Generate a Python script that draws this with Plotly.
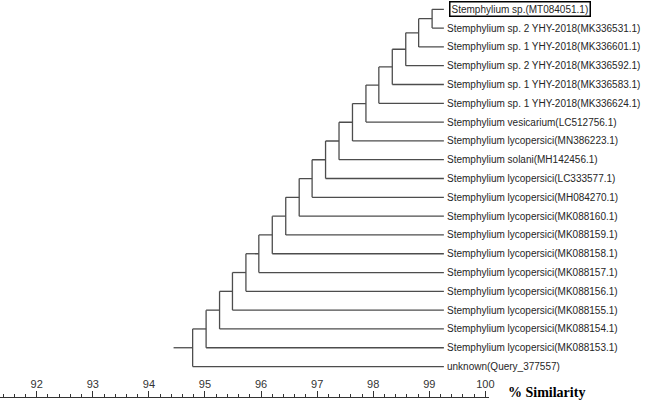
import plotly.graph_objects as go

# leaves, top to bottom
leaf_names = [
    "Stemphylium sp.(MT084051.1)",
    "Stemphylium sp. 2 YHY-2018(MK336531.1)",
    "Stemphylium sp. 1 YHY-2018(MK336601.1)",
    "Stemphylium sp. 2 YHY-2018(MK336592.1)",
    "Stemphylium sp. 1 YHY-2018(MK336583.1)",
    "Stemphylium sp. 1 YHY-2018(MK336624.1)",
    "Stemphylium vesicarium(LC512756.1)",
    "Stemphylium lycopersici(MN386223.1)",
    "Stemphylium solani(MH142456.1)",
    "Stemphylium lycopersici(LC333577.1)",
    "Stemphylium lycopersici(MH084270.1)",
    "Stemphylium lycopersici(MK088160.1)",
    "Stemphylium lycopersici(MK088159.1)",
    "Stemphylium lycopersici(MK088158.1)",
    "Stemphylium lycopersici(MK088157.1)",
    "Stemphylium lycopersici(MK088156.1)",
    "Stemphylium lycopersici(MK088155.1)",
    "Stemphylium lycopersici(MK088154.1)",
    "Stemphylium lycopersici(MK088153.1)",
    "unknown(Query_377557)",
]
highlight = "Stemphylium sp.(MT084051.1)"

# % similarity of each join (node k joins leaves 0..k with leaf k+1)
node_sim = [99.05, 98.81, 98.58, 98.34, 98.10, 97.87, 97.63, 97.39, 97.15, 96.91,
            96.68, 96.44, 96.20, 95.96, 95.73, 95.49, 95.26, 95.02, 94.78]
leaf_sim = 99.26
root_sim = 94.44

line_col = "#4d4d4d"
txt_col = "#262626"

xs, ys = [], []
def seg(x0, y0, x1, y1):
    xs.extend([x0, x1, None])
    ys.extend([y0, y1, None])

node_y = []
prev_y = 0
for k, h in enumerate(node_sim):
    child_a = prev_y          # cluster built so far (or leaf 0)
    child_b = k + 1           # next leaf
    xa = leaf_sim if k == 0 else node_sim[k - 1]
    seg(xa, child_a, h, child_a)
    seg(leaf_sim, child_b, h, child_b)
    seg(h, child_a, h, child_b)
    prev_y = (child_a + child_b) / 2
    node_y.append(prev_y)
seg(node_sim[-1], node_y[-1], root_sim, node_y[-1])

fig = go.Figure()
fig.add_trace(go.Scatter(
    x=xs, y=ys, mode="lines",
    line=dict(color=line_col, width=1.3),
    hoverinfo="skip", showlegend=False,
))

for i, name in enumerate(leaf_names):
    boxed = name == highlight
    fig.add_annotation(
        x=leaf_sim, y=i, xref="x", yref="y",
        text=name, showarrow=False,
        xanchor="left", yanchor="middle",
        xshift=5 if boxed else 2,
        font=dict(family="Liberation Sans, Arial", size=10, color=txt_col),
        bordercolor="black" if boxed else "rgba(0,0,0,0)",
        borderwidth=1.5 if boxed else 0,
        borderpad=1,
    )

# axis caption, to the right of the scale
fig.add_annotation(
    x=510 / 669, y=0.012, xref="paper", yref="paper",
    text="<b>% Similarity</b>", showarrow=False,
    xanchor="left", yanchor="middle",
    font=dict(family="Liberation Serif, Times New Roman", size=14, color="black"),
)

fig.update_layout(
    width=669, height=402,
    margin=dict(l=0, r=0, t=0, b=5),
    plot_bgcolor="white", paper_bgcolor="white",
    showlegend=False,
)
fig.update_xaxes(
    domain=[0, 493 / 669],
    range=[91.345, 100.07],
    showgrid=False, zeroline=False,
    showline=True, linecolor="#333333", linewidth=1,
    ticks="inside", ticklen=6, tickcolor="#333333",
    tick0=92, dtick=1,
    ticklabelposition="inside",
    ticklabeloverflow="allow",
    tickfont=dict(family="Liberation Sans, Arial", size=11, color="#333333"),
    minor=dict(ticks="inside", ticklen=3, dtick=0.2, tick0=92, tickcolor="#333333"),
)
fig.update_yaxes(
    range=[20.62, -0.495],
    visible=False, showgrid=False, zeroline=False,
)

fig.write_html("out.html", config={"displayModeBar": False},
               post_script="document.body.style.margin='0';")
